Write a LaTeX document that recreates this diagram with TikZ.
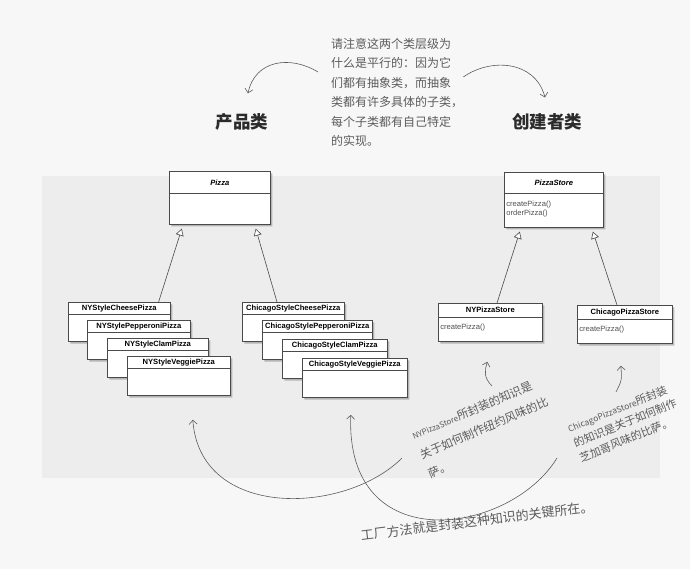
\documentclass[tikz,border=0pt]{standalone}
\usepackage{fontspec}
\setsansfont{Liberation Sans}
\newfontfamily\cjk{Noto Sans CJK SC}
\usetikzlibrary{arrows.meta, positioning, shapes.multipart, shadows}
\definecolor{pagebg}{HTML}{F7F7F7}
\definecolor{panelbg}{HTML}{EDEDED}
\definecolor{boxline}{HTML}{4A4A4A}
\definecolor{methodink}{HTML}{505050}
\definecolor{inkgray}{HTML}{5C5C5C}
\definecolor{titleink}{HTML}{2B2B2B}

\begin{document}
\begin{tikzpicture}[x=1pt, y=-1pt,
  umlclass/.style={rectangle split, rectangle split parts=2, draw=boxline, line width=0.6pt, fill=white,
    drop shadow={shadow xshift=2pt, shadow yshift=-2pt, fill=black!70, opacity=0.35},
    inner xsep=2pt, inner ysep=1.5pt, anchor=north west, align=left,
    font=\sffamily\bfseries\fontsize{7.6}{9}\selectfont},
  hand/.style={text=inkgray, align=left, inner sep=0pt},
  title/.style={font=\cjk\bfseries\fontsize{17.5}{20}\selectfont, text=titleink, inner sep=2pt},
  inherit/.style={draw=boxline, line width=0.6pt, -{Triangle[open, length=7pt, width=8pt, fill=white]}, shorten >=4pt},
  note arrow/.style={draw=inkgray, line width=0.6pt, -{Straight Barb[length=4pt, width=8pt]}},
]
\useasboundingbox (0,0) rectangle (690,569);
\fill[pagebg] (0,0) rectangle (690,569);
\fill[panelbg] (42,176) rectangle (660,478);

% abstract classes
\node[umlclass, text width=97pt] (pizza) at (169,171) {\rule[-5.5pt]{0pt}{18pt}\hfill\itshape Pizza\hfill\null\nodepart{two}\rule{0pt}{28pt}};
\node[umlclass, text width=95pt] (pizzastore) at (504,172) {\rule[-5.5pt]{0pt}{17pt}\hfill\itshape PizzaStore\hfill\null\nodepart{two}\mdseries\color{methodink}\rule{0pt}{12pt}createPizza()\\orderPizza()\rule[-10pt]{0pt}{10pt}};

% concrete pizzas
\node[umlclass, text width=98pt] (nycheese) at (68,302) {\rule[-2pt]{0pt}{8pt}\hfill NYStyleCheesePizza\hfill\null\nodepart{two}\rule{0pt}{24pt}};
\node[umlclass, text width=99pt] (nypepperoni) at (87,320) {\rule[-2pt]{0pt}{8pt}\hfill NYStylePepperoniPizza\hfill\null\nodepart{two}\rule{0pt}{24pt}};
\node[umlclass, text width=97pt] (nyclam) at (107,338) {\rule[-2pt]{0pt}{8pt}\hfill NYStyleClamPizza\hfill\null\nodepart{two}\rule{0pt}{24pt}};
\node[umlclass, text width=99pt] (nyveggie) at (127,356) {\rule[-2pt]{0pt}{8pt}\hfill NYStyleVeggiePizza\hfill\null\nodepart{two}\rule{0pt}{24pt}};

\node[umlclass, text width=98pt] (chicheese) at (242,302) {\rule[-2pt]{0pt}{8pt}\hfill ChicagoStyleCheesePizza\hfill\null\nodepart{two}\rule{0pt}{24pt}};
\node[umlclass, text width=106pt] (chipepperoni) at (262,320) {\rule[-2pt]{0pt}{8pt}\hfill ChicagoStylePepperoniPizza\hfill\null\nodepart{two}\rule{0pt}{24pt}};
\node[umlclass, text width=101pt] (chiclam) at (282,339) {\rule[-2pt]{0pt}{8pt}\hfill ChicagoStyleClamPizza\hfill\null\nodepart{two}\rule{0pt}{24pt}};
\node[umlclass, text width=101pt] (chiveggie) at (302,358) {\rule[-2pt]{0pt}{8pt}\hfill ChicagoStyleVeggiePizza\hfill\null\nodepart{two}\rule{0pt}{24pt}};

% concrete stores
\node[umlclass, text width=100pt] (nystore) at (438,303) {\rule[-3pt]{0pt}{10pt}\hfill NYPizzaStore\hfill\null\nodepart{two}\mdseries\color{methodink}\rule[-10pt]{0pt}{21pt}createPizza()};
\node[umlclass, text width=91pt] (chistore) at (577,305) {\rule[-3pt]{0pt}{10pt}\hfill ChicagoPizzaStore\hfill\null\nodepart{two}\mdseries\color{methodink}\rule[-10pt]{0pt}{21pt}createPizza()};

\draw[inherit] ([xshift=-12pt]nycheese.north east) -- ([xshift=14pt]pizza.south west);
\draw[inherit] ([xshift=35pt]chicheese.north west) -- ([xshift=-16pt]pizza.south east);
\draw[inherit] ([xshift=59pt]nystore.north west) -- ([xshift=17pt]pizzastore.south west);
\draw[inherit] ([xshift=40pt]chistore.north west) -- ([xshift=-12pt]pizzastore.south east);

% handwritten notes
\node[hand, anchor=north west, font=\cjk\fontsize{12}{19.5}\selectfont] (parallelnote) at (331,38) {请注意这两个类层级为\\什么是平行的：因为它\\们都有抽象类，而抽象\\类都有许多具体的子类，\\每个子类都有自己特定\\的实现。};
\node[title] (productlabel) at (242,122) {产品类};
\node[title] (creatorlabel) at (547,122) {创建者类};
\draw[note arrow] ([xshift=-13pt,yshift=-34pt]parallelnote.north west) .. controls (290,55) and (255,60) .. ([xshift=6pt,yshift=18pt]productlabel.north);
\draw[note arrow] ([xshift=0pt,yshift=-39pt]parallelnote.north east) .. controls (490,58) and (535,60) .. ([xshift=-2pt,yshift=14pt]creatorlabel.north);

\node[hand, rotate=23, font=\cjk\fontsize{11.5}{21}\selectfont] (nynote) at (484,428) {{\fontsize{8}{10}\selectfont NYPizzaStore}所封装的知识是\\关于如何制作纽约风味的比\\萨。};
\node[hand, rotate=22, font=\cjk\fontsize{11}{16}\selectfont] (chinote) at (625,423) {{\fontsize{8.5}{10}\selectfont ChicagoPizzaStore}所封装\\的知识是关于如何制作\\芝加哥风味的比萨。};
\node[hand, rotate=7, font=\cjk\fontsize{13}{15}\selectfont] (factorynote) at (477,521) {工厂方法就是封装这种知识的关键所在。};

\coordinate (nyhint) at (492,386);
\coordinate (chihint) at (616,392);
\draw[note arrow] (nyhint) .. controls (483,377) and (485,370) .. ([xshift=-3pt,yshift=-20pt]nystore.south);
\draw[note arrow] (chihint) .. controls (622,380) .. ([xshift=-4pt,yshift=-22pt]chistore.south);

\coordinate (nyfoot) at (402,458);
\coordinate (chifoot) at (557,458);
\draw[note arrow] (nyfoot) .. controls (345,515) and (200,520) .. ([xshift=14pt,yshift=-24pt]nyveggie.south);
\draw[note arrow] (chifoot) .. controls (510,535) and (345,560) .. ([xshift=-4pt,yshift=-17pt]chiveggie.south);
\end{tikzpicture}
\end{document}
